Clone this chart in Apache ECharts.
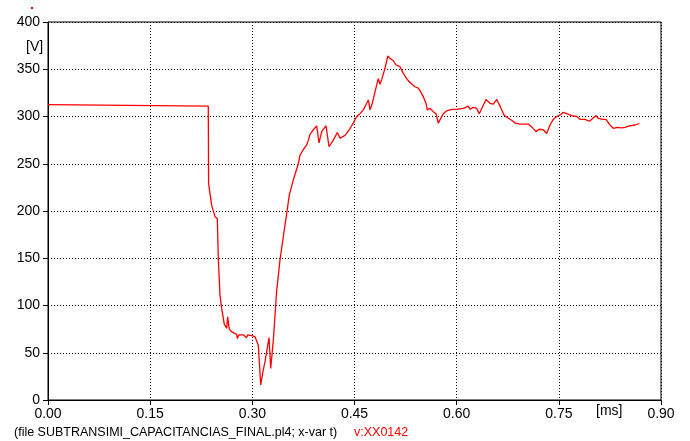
<!DOCTYPE html>
<html>
<head>
<meta charset="utf-8">
<script src="https://cdn.jsdelivr.net/npm/echarts@6/dist/echarts.min.js"></script>
<style>html,body{margin:0;padding:0;background:#fff}#c{width:690px;height:441px}</style>
</head>
<body>
<div id="c"></div>
<script>
// time in ms
var timeMs = [0.0000,0.2353,0.2358,0.2403,0.2452,0.2486,0.2500,0.2525,0.2550,0.2588,0.2624,0.2638,0.2662,0.2697,0.2771,0.2779,0.2804,0.2867,0.2917,0.2932,0.2991,0.3039,0.3064,0.3088,0.3113,0.3123,0.3161,0.3186,0.3211,0.3245,0.3270,0.3308,0.3358,0.3406,0.3455,0.3505,0.3543,0.3602,0.3675,0.3700,0.3748,0.3798,0.3822,0.3847,0.3895,0.3945,0.3979,0.4018,0.4082,0.4126,0.4189,0.4248,0.4287,0.4361,0.4424,0.4482,0.4532,0.4581,0.4629,0.4679,0.4703,0.4728,0.4761,0.4801,0.4849,0.4874,0.4899,0.4948,0.4988,0.5021,0.5070,0.5109,0.5134,0.5168,0.5217,0.5266,0.5315,0.5388,0.5437,0.5472,0.5510,0.5550,0.5569,0.5609,0.5657,0.5697,0.5730,0.5804,0.5854,0.5927,0.6001,0.6097,0.6171,0.6196,0.6244,0.6294,0.6332,0.6391,0.6431,0.6489,0.6538,0.6588,0.6636,0.6695,0.6744,0.6808,0.6857,0.6930,0.7052,0.7102,0.7165,0.7213,0.7272,0.7322,0.7370,0.7419,0.7469,0.7528,0.7566,0.7616,0.7689,0.7762,0.7811,0.7884,0.7948,0.7997,0.8046,0.8080,0.8153,0.8193,0.8251,0.8300,0.8359,0.8423,0.8472,0.8535,0.8619,0.8682];
// voltage in V
var voltage = [312.5,311,229,206,194,192,150,111,97,80,76,88,75,72,69.5,65,69,69,66,69,68,67,69,58,58,16,32,40.5,41,66,33.5,63,116,148,173,197.5,217,233,250,259,265,270,275,281,286,290,272,284,290,268,275,283,277,280,286,293,300,303,307,314,317.5,307,314,326,340,334,339,351,364,361.5,359,354.5,356,352.7,345.6,340,336,331.5,330,326,321,314,307,308.6,305,303,293,303,306,307.6,307.6,308.6,311,307.6,309.7,308.6,303,312,318,314,313,318,311,301.6,299,296,293,292,292,289,284,286.5,286,282,291,297,300,302,304.4,303,301,300,297,297,295,298,301,298,297,297,291,287.5,288.6,288,288.6,290,291,292.6];
var xTicks = [0.00,0.15,0.30,0.45,0.60,0.75,0.90];
var yTicks = [0,50,100,150,200,250,300,350,400];

var pts = timeMs.map(function(t,i){return [t, voltage[i]];});
var chart = echarts.init(document.getElementById('c'));
var font = 'Liberation Sans, Arial, sans-serif';
chart.setOption({
  animation:false,
  backgroundColor:'#fff',
  grid:{left:48, right:29, top:22, bottom:41, show:true, borderColor:'#000', borderWidth:1},
  xAxis:{type:'value', min:xTicks[0], max:xTicks[xTicks.length-1], interval:0.15,
    axisLine:{lineStyle:{color:'#000', width:1}},
    axisTick:{show:true, length:5, lineStyle:{color:'#000'}},
    axisLabel:{color:'#000', fontSize:14, fontFamily:font, margin:7, formatter:function(v){return v.toFixed(2);}},
    splitLine:{show:true, lineStyle:{color:'#000', type:[1,2], width:1}}},
  yAxis:{type:'value', min:yTicks[0], max:yTicks[yTicks.length-1], interval:50,
    axisLine:{show:true, lineStyle:{color:'#000', width:1}},
    axisTick:{show:true, length:5, lineStyle:{color:'#000'}},
    axisLabel:{color:'#000', fontSize:14, fontFamily:font, margin:8},
    splitLine:{show:true, lineStyle:{color:'#000', type:[1,2], width:1}}},
  graphic:[
    {type:'text', left:26, top:40, style:{text:'[V]', fontSize:14, fontFamily:font, fill:'#000'}},
    {type:'text', left:596, top:404, style:{text:'[ms]', fontSize:14, fontFamily:font, fill:'#000'}},
    {type:'text', left:14, top:426, style:{text:'(file SUBTRANSIMI_CAPACITANCIAS_FINAL.pl4; x-var t)', fontSize:12.5, fontFamily:font, fill:'#000'}},
    {type:'text', left:354, top:426, style:{text:'v:XX0142', fontSize:12.5, fontFamily:font, fill:'#ff0000'}},
    {type:'rect', shape:{x:31, y:7, width:2, height:2}, style:{fill:'#ff0000'}}
  ],
  series:[{type:'line', data:pts, showSymbol:false, symbol:'none',
    lineStyle:{color:'#ff0000', width:1.3}, itemStyle:{color:'#ff0000'}}]
});
</script>
</body>
</html>
